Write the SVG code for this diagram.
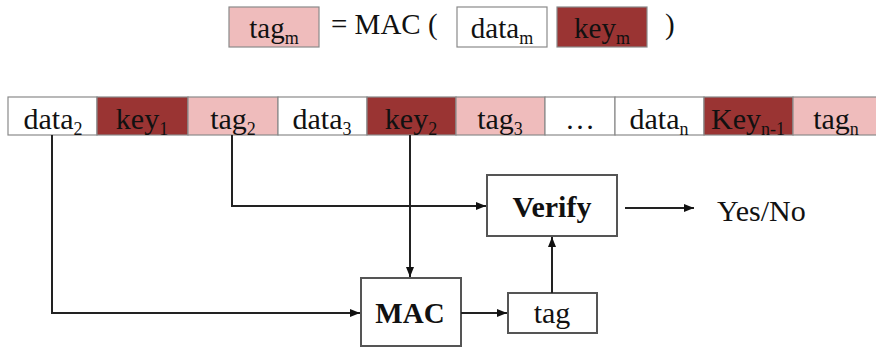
<svg xmlns="http://www.w3.org/2000/svg" width="876" height="348" viewBox="0 0 876 348">
  <style>
    text { font-family: "Liberation Serif", "Times New Roman", serif; fill: #111; }
    .lbl { font-size: 30px; text-anchor: middle; }
    .top { font-size: 29px; }
    .sub { font-size: 18px; }
    .bold { font-weight: bold; }
    .cell { stroke: #8a8a8a; stroke-width: 1.2; }
    .white { fill: #ffffff; }
    .key { fill: #9a3433; }
    .tag { fill: #efbcbc; }
    .box { fill: #ffffff; stroke: #555; stroke-width: 2; }
    .wire { fill: none; stroke: #222; stroke-width: 2; }
  </style>
  <defs>
    <marker id="arrow" markerUnits="userSpaceOnUse" markerWidth="10" markerHeight="8" refX="10" refY="4" orient="auto">
      <path d="M0,0 L10,4 L0,8 z" fill="#111"/>
    </marker>
  </defs>

  <!-- formula: tag_m = MAC ( data_m key_m ) -->
  <g id="formula">
    <rect class="cell tag" x="229" y="7" width="90" height="40"/>
    <text class="lbl top" x="274" y="38">tag<tspan class="sub" dy="6">m</tspan></text>
    <text class="top" x="331" y="34">= MAC (</text>
    <rect class="cell white" x="457" y="7" width="90" height="40"/>
    <text class="lbl top" x="502" y="38">data<tspan class="sub" dy="6">m</tspan></text>
    <rect class="cell key" x="557" y="7" width="90" height="40"/>
    <text class="lbl top" x="602" y="38">key<tspan class="sub" dy="6">m</tspan></text>
    <text class="top" x="665" y="34">)</text>
  </g>

  <!-- message stream -->
  <g id="stream">
    <rect class="cell white" x="8" y="97" width="89" height="38"/>
    <text class="lbl" x="53" y="129">data<tspan class="sub" dy="6">2</tspan></text>
    <rect class="cell key" x="97" y="97" width="91" height="38"/>
    <text class="lbl" x="142" y="129">key<tspan class="sub" dy="6">1</tspan></text>
    <rect class="cell tag" x="188" y="97" width="90" height="38"/>
    <text class="lbl" x="233" y="129">tag<tspan class="sub" dy="6">2</tspan></text>
    <rect class="cell white" x="278" y="97" width="89" height="38"/>
    <text class="lbl" x="322" y="129">data<tspan class="sub" dy="6">3</tspan></text>
    <rect class="cell key" x="367" y="97" width="89" height="38"/>
    <text class="lbl" x="411" y="129">key<tspan class="sub" dy="6">2</tspan></text>
    <rect class="cell tag" x="456" y="97" width="89" height="38"/>
    <text class="lbl" x="500" y="129">tag<tspan class="sub" dy="6">3</tspan></text>
    <rect class="cell white" x="545" y="97" width="70" height="38"/>
    <text class="lbl" x="580" y="129">…</text>
    <rect class="cell white" x="615" y="97" width="89" height="38"/>
    <text class="lbl" x="659" y="129">data<tspan class="sub" dy="6">n</tspan></text>
    <rect class="cell key" x="704" y="97" width="89" height="38"/>
    <text class="lbl" x="748" y="129">Key<tspan class="sub" dy="6">n-1</tspan></text>
    <rect class="cell tag" x="793" y="97" width="90" height="38"/>
    <text class="lbl" x="836" y="129">tag<tspan class="sub" dy="6">n</tspan></text>
  </g>

  <g id="verify">
    <rect class="box" x="487" y="175" width="130" height="61"/>
    <text class="lbl bold" x="552" y="217">Verify</text>
  </g>

  <g id="mac">
    <rect class="box" x="361" y="278" width="100" height="68"/>
    <text class="lbl bold" x="410" y="323" style="font-size:29px">MAC</text>
  </g>

  <g id="tag">
    <rect class="box" x="508" y="293" width="89" height="40"/>
    <text class="lbl" x="552" y="323">tag</text>
  </g>

  <g id="result">
    <text x="717" y="221" style="font-size:30px">Yes/No</text>
  </g>

  <g id="connectors">
    <path class="wire" d="M52,135 V313 H360" marker-end="url(#arrow)"/>
    <path class="wire" d="M232,135 V206 H486" marker-end="url(#arrow)"/>
    <path class="wire" d="M410,135 V277" marker-end="url(#arrow)"/>
    <path class="wire" d="M461,313 H507" marker-end="url(#arrow)"/>
    <path class="wire" d="M552,293 V237" marker-end="url(#arrow)"/>
    <path class="wire" d="M625,208 H694" marker-end="url(#arrow)"/>
  </g>
</svg>
